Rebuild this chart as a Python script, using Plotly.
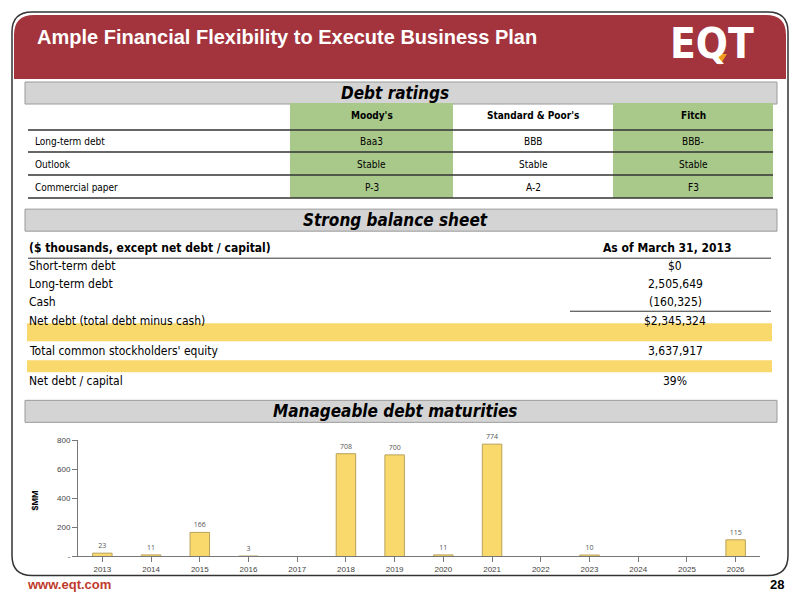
import plotly.graph_objects as go

years = ["2013", "2014", "2015", "2016", "2017", "2018", "2019", "2020", "2021",
         "2022", "2023", "2024", "2025", "2026"]
maturities = [23, 11, 166, 3, None, 708, 700, 11, 774, None, 10, None, None, 115]
bar_labels = ["23", "11", "166", "3", "", "708", "700", "11", "774", "", "10", "", "", "115"]

rating_cols = ["Moody's", "Standard & Poor's", "Fitch"]
rating_rows = ["Long-term debt", "Outlook", "Commercial paper"]
ratings = [["Baa3", "BBB", "BBB-"], ["Stable", "Stable", "Stable"], ["P-3", "A-2", "F3"]]

bs_labels = ["Short-term debt", "Long-term debt", "Cash", "Net debt (total debt minus cash)",
             "Total common stockholders' equity", "Net debt / capital"]
bs_values = ["$0", "2,505,649", "(160,325)", "$2,345,324", "3,637,917", "39%"]

W, H = 800, 600
RED = "#A3333D"
GREEN = "#A9C98A"
YELLOW = "#F9D96B"
NARROW = "DejaVu Sans Condensed"

fig = go.Figure()
fig.add_trace(go.Bar(
    x=years, y=maturities, text=bar_labels, textposition="outside",
    textfont=dict(size=7, color="#555"), width=0.4,
    marker=dict(color=YELLOW, line=dict(color="#B8A15A", width=1)),
    cliponaxis=False,
))

shapes = []
ann = []


# map target screen pixels to paper coords (page adds a margin and slight squeeze)
def px_x(v):
    return (v - 8) / W


def px_y(v):
    return 1 - ((v - 16) / 0.984 + 4) / H


def rect(x0, y0, x1, y1, fill, line=None, lw=0):
    shapes.append(dict(type="rect", xref="paper", yref="paper",
                       x0=px_x(x0), x1=px_x(x1), y0=px_y(y1), y1=px_y(y0),
                       fillcolor=fill, line=dict(color=line or fill, width=lw), layer="below"))


def hline(x0, x1, y, color="#333", w=1.5):
    shapes.append(dict(type="line", xref="paper", yref="paper",
                       x0=px_x(x0), x1=px_x(x1), y0=px_y(y), y1=px_y(y),
                       line=dict(color=color, width=w)))


def text(x, y, s, size=11, color="black", anchor="left", bold=False, italic=False, family="Arial"):
    if bold:
        s = "<b>" + s + "</b>"
    if italic:
        s = "<i>" + s + "</i>"
    ann.append(dict(xref="paper", yref="paper", x=px_x(x), y=px_y(y), text=s, showarrow=False,
                    xanchor=anchor, yanchor="middle", font=dict(size=size, color=color, family=family)))


def P(x, y):
    return "%f %f" % (px_x(x), px_y(y))


# outer frame and header
shapes.append(dict(type="path", xref="paper", yref="paper",
                   path="M %s L %s Q %s %s L %s Q %s %s L %s Q %s %s L %s Q %s %s Z" % (
                       P(32, 12), P(768, 12), P(788, 12), P(788, 32),
                       P(788, 555), P(788, 575), P(768, 575),
                       P(32, 575), P(12, 575), P(12, 555),
                       P(12, 32), P(12, 12), P(32, 12)),
                   line=dict(color="#333", width=1.5), fillcolor="white", layer="below"))
shapes.append(dict(type="path", xref="paper", yref="paper",
                   path="M %s L %s Q %s %s L %s L %s L %s Q %s %s Z" % (
                       P(34, 15), P(766, 15), P(786, 15), P(786, 35),
                       P(786, 79), P(14, 79), P(14, 35),
                       P(14, 15), P(34, 15)),
                   line=dict(width=0), fillcolor=RED, layer="below"))
text(35, 37, "Ample Financial Flexibility to Execute Business Plan", size=20, color="white", bold=True)
text(712, 44, "<b>EQT</b>", size=42, color="white", anchor="center", family=NARROW)
shapes.append(dict(type="path", xref="paper", yref="paper",
                   path="M %s L %s L %s Z" % (P(713, 54), P(727, 54), P(720, 65)),
                   fillcolor="#F29A1F", line=dict(width=0)))

# section bands
for y0, title in [(82, "Debt ratings"), (209, "Strong balance sheet"), (400, "Manageable debt maturities")]:
    rect(25, y0, 777, y0 + 22, "#D4D4D4", "#9A9A9A", 1)
    text(395, y0 + 11, title, size=17, anchor="center", bold=True, italic=True, family=NARROW)

# ratings table
col_x = [(290, 453), (453, 613), (613, 773)]
for i, (a, b) in enumerate(col_x):
    if i != 1:
        rect(a, 103, b, 198, GREEN)
    text((a + b) / 2, 115, rating_cols[i], size=10, anchor="center", bold=True, family=NARROW)
for y in [130, 152, 175, 198]:
    hline(28, 773, y, "#333", 1.5)
for r, label in enumerate(rating_rows):
    cy = 141 + r * 23
    text(33, cy, label, size=10, family=NARROW)
    for i, (a, b) in enumerate(col_x):
        text((a + b) / 2, cy, ratings[r][i], size=10, anchor="center", family=NARROW)

# balance sheet
text(27, 248, "($ thousands, except net debt / capital)", size=12, bold=True, family=NARROW)
text(667, 248, "As of March 31, 2013", size=12, anchor="center", bold=True, family=NARROW)
hline(28, 771, 258, "#333", 1)
hline(570, 771, 311, "#333", 1)
rect(27, 323, 772, 341, YELLOW)
rect(27, 360, 772, 372, YELLOW)
bs_y = [266, 284, 302, 321, 351, 381]
for lab, val, y in zip(bs_labels, bs_values, bs_y):
    text(27, y, lab, size=12, family=NARROW)
    text(675, y, val, size=12, anchor="center", family=NARROW)

# chart axis title and footer
text(35, 500, "$MM", size=9, anchor="center", bold=True)
ann[-1]["textangle"] = -90
text(25, 584, "www.eqt.com", size=13, color="#C0392B", bold=True)
text(786, 584, "28", size=13, anchor="right", bold=True)

fig.update_layout(
    width=W, height=H, margin=dict(l=0, r=0, t=0, b=0),
    paper_bgcolor="white", plot_bgcolor="white", showlegend=False,
    shapes=shapes, annotations=ann,
    xaxis=dict(domain=[px_x(78), px_x(760)], showline=True, linecolor="#777",
               ticks="outside", tickcolor="#777", tickfont=dict(size=8, color="#444", family="Arial")),
    yaxis=dict(domain=[px_y(556), px_y(440)], range=[0, 800], tickvals=[0, 200, 400, 600, 800],
               ticktext=["-", "200", "400", "600", "800"], showgrid=False, showline=True,
               linecolor="#777", ticks="outside", tickcolor="#777", zeroline=False,
               tickfont=dict(size=8, color="#444", family="Arial")),
    bargap=0.6,
)

fig.write_html("out.html")
